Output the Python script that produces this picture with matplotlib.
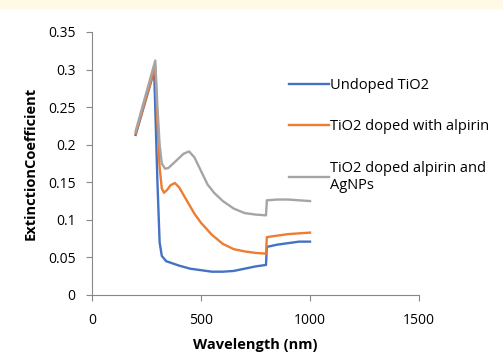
import matplotlib.pyplot as plt
from matplotlib.patches import Rectangle

# Extinction coefficient vs wavelength
wl_undoped = [200, 285, 300, 310, 320, 340, 360, 400, 450, 500, 550, 600, 650, 700, 750, 798,
              802, 850, 900, 950, 1000]
ext_undoped = [0.213, 0.298, 0.15, 0.07, 0.052, 0.045, 0.043, 0.039, 0.035, 0.033, 0.031, 0.031,
               0.032, 0.035, 0.038, 0.040, 0.064, 0.067, 0.069, 0.071, 0.071]

wl_alpirin = [200, 290, 300, 310, 320, 330, 345, 360, 380, 400, 430, 470, 500, 550, 600, 650,
              700, 750, 798, 802, 850, 900, 950, 1000]
ext_alpirin = [0.215, 0.305, 0.23, 0.17, 0.142, 0.136, 0.14, 0.146, 0.149, 0.143, 0.128, 0.108,
               0.096, 0.080, 0.068, 0.061, 0.058, 0.056, 0.055, 0.077, 0.079, 0.081, 0.082, 0.083]

wl_agnp = [200, 290, 300, 310, 320, 335, 350, 380, 420, 445, 470, 500, 530, 560, 600, 650,
           700, 750, 798, 802, 850, 900, 950, 1000]
ext_agnp = [0.218, 0.312, 0.25, 0.20, 0.175, 0.168, 0.169, 0.177, 0.188, 0.191, 0.183, 0.165,
            0.147, 0.136, 0.125, 0.115, 0.109, 0.107, 0.106, 0.126, 0.127, 0.127, 0.126, 0.125]

labels = ["Undoped TiO2", "TiO2 doped with alpirin", "TiO2 doped alpirin and\nAgNPs"]
colors = ["#4472C4", "#ED7D31", "#A5A5A5"]

plt.rcParams['font.family'] = ['Open Sans', 'DejaVu Sans']

fig = plt.figure(figsize=(5.03, 3.54), dpi=100)
fig.patches.append(Rectangle((0, 1 - 8 / 354), 1, 8 / 354, transform=fig.transFigure,
                             color="#FFF9E6", zorder=0))
ax = fig.add_axes([0.183, 0.1667, 0.65, 0.743])

ax.plot(wl_undoped, ext_undoped, color=colors[0], lw=1.7, label=labels[0])
ax.plot(wl_alpirin, ext_alpirin, color=colors[1], lw=1.7, label=labels[1])
ax.plot(wl_agnp, ext_agnp, color=colors[2], lw=1.7, label=labels[2])

ax.set_xlim(0, 1500)
ax.set_ylim(0, 0.35)
ax.set_xticks([0, 500, 1000, 1500])
ax.set_yticks([0, 0.05, 0.1, 0.15, 0.2, 0.25, 0.3, 0.35])
ax.set_yticklabels(["0", "0.05", "0.1", "0.15", "0.2", "0.25", "0.3", "0.35"])
ax.tick_params(labelsize=10, color="#888888", length=4)
ax.tick_params(axis="y", pad=8)
ax.tick_params(axis="x", pad=9)
for s in ["top", "right"]:
    ax.spines[s].set_visible(False)
for s in ["left", "bottom"]:
    ax.spines[s].set_color("#888888")

ax.set_xlabel("Wavelength (nm)", fontsize=10.5, fontweight="bold", labelpad=7)
ax.set_ylabel("ExtinctionCoefficient", fontsize=10.5, fontweight="bold", labelpad=7)

ax.legend(loc="upper left", bbox_to_anchor=(0.563, 0.874), frameon=False, fontsize=10.5,
          handlelength=2.7, handletextpad=0.1, labelspacing=1.8)

plt.savefig("out.png", dpi=100)
